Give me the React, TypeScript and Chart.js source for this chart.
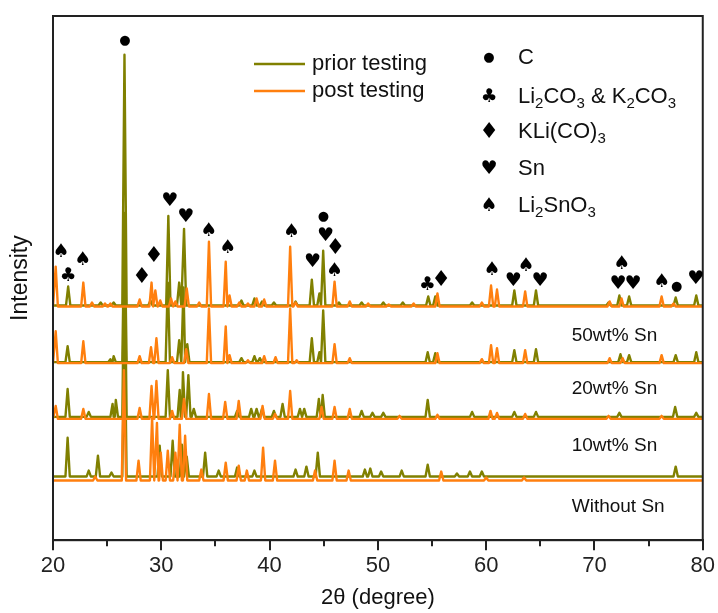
import { useEffect, useRef } from "react";
import { Chart, registerables } from "chart.js";

Chart.register(...registerables);

// ---------- axes ----------
const X_MIN = 20;
const X_MAX = 80;
const X_STEP = 10;
const X_MINOR_TICKS = [25, 35, 45, 55, 65, 75];
const Y_MIN = 0;
const Y_MAX = 527;

// ---------- samples (top to bottom) ----------
const SAMPLE_LABELS = ["50wt% Sn", "20wt% Sn", "10wt% Sn", "Without Sn"];
const SAMPLE_LABEL_X = 67.9;
const SAMPLE_LABEL_Y = [206, 152, 95, 34];
const PRIOR_BASE = [236, 179, 124, 64];
const POST_BASE = [235, 178, 122, 60];

// peaks: [2theta, height above baseline]
const PRIOR_50: [number, number][] = [
  [21.4, 19], [24.4, 3], [25.6, 3], [26.6, 252], [29.0, 5], [30.65, 90], [31.65, 23], [32.1, 77],
  [37.4, 5], [38.6, 7], [39.3, 4], [40.4, 3], [42.4, 4], [43.9, 26], [44.6, 12], [44.95, 55],
  [46.4, 3], [48.5, 3], [50.5, 3], [52.3, 3], [54.65, 9], [55.3, 9], [58.7, 3], [62.6, 15],
  [64.6, 15], [71.3, 3], [72.3, 10], [73.2, 9], [77.5, 8], [79.4, 10],
];
const POST_50: [number, number][] = [
  [20.25, 40], [22.8, 24], [23.6, 4], [24.8, 3], [25.3, 3], [28.0, 7], [29.1, 24], [29.45, 16],
  [29.9, 6], [30.9, 8], [31.3, 5], [32.35, 18], [33.5, 4], [34.4, 65], [35.95, 45], [36.3, 11],
  [37.2, 4], [38.0, 3], [38.8, 8], [39.5, 7], [41.9, 60], [42.4, 4], [46.0, 25], [47.4, 5],
  [49.1, 3], [51.0, 2], [53.3, 3], [55.5, 13], [59.6, 4], [60.45, 21], [61.0, 17], [63.6, 15],
  [71.4, 5], [72.5, 8], [76.2, 10], [77.3, 3],
];
const PRIOR_20: [number, number][] = [
  [21.35, 16], [25.3, 3], [25.6, 6], [26.6, 150], [30.6, 80], [31.65, 22], [32.05, 75], [32.4, 18],
  [37.4, 4], [38.6, 6], [39.1, 4], [43.9, 24], [44.6, 10], [44.95, 52], [54.6, 10], [55.3, 9],
  [62.6, 12], [64.6, 13], [72.4, 8], [73.2, 7], [77.5, 7], [79.4, 10],
];
const POST_20: [number, number][] = [
  [20.25, 32], [22.8, 22], [28.0, 7], [29.05, 16], [29.55, 25], [31.0, 6], [32.3, 14], [34.4, 55],
  [35.95, 37], [36.3, 8], [38.0, 3], [39.5, 7], [40.55, 6], [41.9, 55], [42.5, 3], [46.0, 19],
  [47.4, 5], [55.5, 10], [59.6, 4], [60.45, 18], [61.0, 15], [63.6, 13], [71.4, 5], [72.6, 5],
  [76.2, 8],
];
const PRIOR_10: [number, number][] = [
  [21.35, 28], [23.3, 5], [25.5, 13], [25.8, 17], [26.6, 180], [30.6, 47], [31.7, 27], [32.0, 45],
  [32.5, 42], [33.0, 8], [37.0, 6], [38.3, 8], [38.8, 8], [39.3, 8], [40.4, 6], [41.2, 13],
  [42.8, 8], [43.2, 8], [44.55, 18], [44.9, 22], [48.5, 6], [49.5, 4], [50.5, 4], [54.6, 17],
  [58.7, 5], [62.6, 5], [64.6, 5], [72.3, 4], [77.45, 10], [79.4, 4],
];
const POST_10: [number, number][] = [
  [20.25, 13], [22.8, 10], [28.0, 11], [29.1, 33], [29.55, 38], [31.0, 8], [32.1, 20], [34.4, 25],
  [35.9, 17], [37.15, 18], [39.35, 13], [40.5, 5], [41.9, 28], [44.8, 12], [46.0, 12], [47.4, 10],
  [52.0, 3], [55.5, 4], [60.4, 8], [61.0, 6], [63.6, 5], [71.3, 3], [76.2, 3],
];
const PRIOR_0: [number, number][] = [
  [21.35, 39], [23.3, 6], [24.15, 21], [25.4, 4], [26.6, 170], [29.85, 31], [31.05, 36], [31.9, 32],
  [32.35, 20], [34.05, 24], [35.3, 6], [37.0, 9], [38.6, 6], [42.4, 7], [43.4, 10], [44.45, 24],
  [48.8, 7], [49.3, 8], [50.3, 5], [52.2, 6], [54.6, 12], [57.3, 3], [58.5, 5], [59.6, 5], [77.5, 10],
];
const POST_0: [number, number][] = [
  [23.9, 4], [26.55, 111], [27.9, 20], [29.15, 63], [29.6, 58], [29.95, 28], [30.6, 30], [31.3, 28],
  [31.7, 56], [32.2, 45], [33.7, 11], [35.95, 18], [37.15, 15], [37.9, 10], [39.4, 33], [40.5, 20],
  [44.2, 10], [46.0, 20], [47.3, 10], [55.85, 9], [60.0, 3], [63.5, 3],
];

const PRIOR_PEAKS = [PRIOR_50, PRIOR_20, PRIOR_10, PRIOR_0];
const POST_PEAKS = [POST_50, POST_20, POST_10, POST_0];

// phase markers: [2theta, intensity, symbol]
const MARKERS: [number, number, string][] = [
  [20.74, 290, "♠"], [21.38, 266, "♣"], [22.76, 282, "♠"], [26.64, 502, "●"], [28.2, 264, "♦"],
  [29.31, 285, "♦"], [30.78, 341, "♥"], [32.26, 325, "♥"], [34.38, 311, "♠"], [36.13, 294, "♠"],
  [42.03, 310, "♠"], [43.96, 280, "♥"], [44.98, 325, "●"], [45.16, 306, "♥"], [46.08, 293, "♦"],
  [45.99, 271, "♠"], [54.56, 256, "♣"], [55.85, 261, "♦"], [60.55, 272, "♠"], [62.49, 261, "♥"],
  [63.69, 276, "♠"], [64.98, 261, "♥"], [72.53, 278, "♠"], [72.17, 258, "♥"], [73.55, 258, "♥"],
  [76.22, 260, "♠"], [77.6, 255, "●"], [79.35, 263, "♥"],
];

const SERIES_NAMES = ["prior testing", "post testing"];
const PRIOR_COLOR = "#808000";
const POST_COLOR = "#ff7f0e";

type Seg = { t: string; sub?: boolean };
const PHASE_SYMBOLS = ["●", "♣", "♦", "♥", "♠"];
const PHASE_NAMES: Seg[][] = [
  [{ t: "C" }],
  [{ t: "Li" }, { t: "2", sub: true }, { t: "CO" }, { t: "3", sub: true }, { t: " & K" }, { t: "2", sub: true }, { t: "CO" }, { t: "3", sub: true }],
  [{ t: "KLi(CO)" }, { t: "3", sub: true }],
  [{ t: "Sn" }],
  [{ t: "Li" }, { t: "2", sub: true }, { t: "SnO" }, { t: "3", sub: true }],
];

const PEAK_HALF_WIDTH = 0.2;

function buildTrace(base: number, peaks: [number, number][]) {
  const pts: { x: number; y: number }[] = [
    { x: X_MIN, y: base },
    { x: X_MAX, y: base },
  ];
  for (const [p, h] of peaks) {
    pts.push({ x: p - PEAK_HALF_WIDTH, y: base });
    pts.push({ x: p, y: base + h });
    pts.push({ x: p + PEAK_HALF_WIDTH, y: base });
  }
  pts.sort((a, b) => a.x - b.x);
  return pts;
}

const FONT = "'Liberation Sans', Arial, sans-serif";
const SYM_FONT = "'DejaVu Sans', sans-serif";

function symFont(s: string) {
  if (s === "●") return `13px ${SYM_FONT}`;
  if (s === "♦") return `22px ${SYM_FONT}`;
  return `19px ${SYM_FONT}`;
}

const overlay = {
  id: "overlay",
  afterDraw(chart: any) {
    const { ctx, chartArea: a, scales } = chart;
    const xs = scales.x;
    const ys = scales.y;
    ctx.save();
    // frame
    ctx.strokeStyle = "#222";
    ctx.lineWidth = 2;
    ctx.strokeRect(a.left, a.top, a.right - a.left, a.bottom - a.top);
    // minor ticks
    ctx.beginPath();
    for (const v of X_MINOR_TICKS) {
      const px = Math.round(xs.getPixelForValue(v));
      ctx.moveTo(px, a.bottom);
      ctx.lineTo(px, a.bottom + 6);
    }
    ctx.stroke();

    // phase markers
    ctx.fillStyle = "#000";
    ctx.textAlign = "center";
    ctx.textBaseline = "middle";
    for (const [x, y, s] of MARKERS) {
      ctx.font = symFont(s);
      ctx.fillText(s, xs.getPixelForValue(x), ys.getPixelForValue(y));
    }

    // sample labels
    ctx.fillStyle = "#111";
    ctx.textAlign = "left";
    ctx.font = `19px ${FONT}`;
    SAMPLE_LABELS.forEach((l, i) => {
      ctx.fillText(l, xs.getPixelForValue(SAMPLE_LABEL_X), ys.getPixelForValue(SAMPLE_LABEL_Y[i]));
    });

    // series legend
    const colors = [PRIOR_COLOR, POST_COLOR];
    SERIES_NAMES.forEach((n, i) => {
      const y = 64 + i * 27;
      ctx.strokeStyle = colors[i];
      ctx.lineWidth = 2.5;
      ctx.beginPath();
      ctx.moveTo(254, y);
      ctx.lineTo(305, y);
      ctx.stroke();
      ctx.fillStyle = "#111";
      ctx.font = `22px ${FONT}`;
      ctx.textAlign = "left";
      ctx.fillText(n, 312, y);
    });

    // phase legend
    const rowY = [58, 97, 132, 169, 206];
    PHASE_SYMBOLS.forEach((s, i) => {
      const y = rowY[i];
      ctx.fillStyle = "#000";
      ctx.textAlign = "center";
      ctx.font = symFont(s);
      ctx.fillText(s, 489, y);
      let x = 518;
      ctx.textAlign = "left";
      ctx.fillStyle = "#111";
      for (const seg of PHASE_NAMES[i]) {
        ctx.font = seg.sub ? `15px ${FONT}` : `22px ${FONT}`;
        ctx.fillText(seg.t, x, seg.sub ? y + 7 : y);
        x += ctx.measureText(seg.t).width;
      }
    });
    ctx.restore();
  },
};

export default function App() {
  const ref = useRef<HTMLCanvasElement>(null);
  useEffect(() => {
    if (!ref.current) return;
    const lineStyle = {
      borderWidth: 2.4,
      pointRadius: 0,
      tension: 0,
      borderJoinStyle: "round" as const,
      borderCapStyle: "round" as const,
    };
    const postSets = POST_PEAKS.map((p, i) => ({
      label: `${SERIES_NAMES[1]} ${SAMPLE_LABELS[i]}`,
      data: buildTrace(POST_BASE[i], p),
      borderColor: POST_COLOR,
      backgroundColor: POST_COLOR,
      ...lineStyle,
    }));
    const priorSets = PRIOR_PEAKS.map((p, i) => ({
      label: `${SERIES_NAMES[0]} ${SAMPLE_LABELS[i]}`,
      data: buildTrace(PRIOR_BASE[i], p),
      borderColor: PRIOR_COLOR,
      backgroundColor: PRIOR_COLOR,
      ...lineStyle,
    }));
    const chart = new Chart(ref.current, {
      type: "line",
      data: { datasets: [...postSets, ...priorSets] },
      options: {
        animation: false,
        responsive: true,
        maintainAspectRatio: false,
        layout: { padding: { top: 16, right: 13, left: 4, bottom: 2 } },
        plugins: { legend: { display: false }, tooltip: { enabled: false } },
        scales: {
          x: {
            type: "linear",
            min: X_MIN,
            max: X_MAX,
            ticks: { stepSize: X_STEP, color: "#222", font: { family: FONT, size: 22 }, padding: 3, maxRotation: 0 },
            grid: { drawOnChartArea: false, drawTicks: true, tickLength: 10, color: "#222", lineWidth: 2 },
            border: { display: true, color: "#222", width: 2 },
            title: { display: true, text: "2θ (degree)", color: "#111", font: { family: FONT, size: 22 }, padding: { top: 2, bottom: 0 } },
          },
          y: {
            min: Y_MIN,
            max: Y_MAX,
            ticks: { display: false },
            grid: { display: false, drawTicks: false, tickLength: 0 },
            border: { display: false },
            title: { display: true, text: "Intensity", color: "#111", font: { family: FONT, size: 23 }, padding: { top: 3, bottom: 18.4 } },
          },
        },
      },
      plugins: [overlay],
    });
    return () => chart.destroy();
  }, []);
  return (
    <div style={{ position: "fixed", left: 0, top: 0, width: 718, height: 613, background: "#fff" }}>
      <canvas ref={ref} />
    </div>
  );
}
